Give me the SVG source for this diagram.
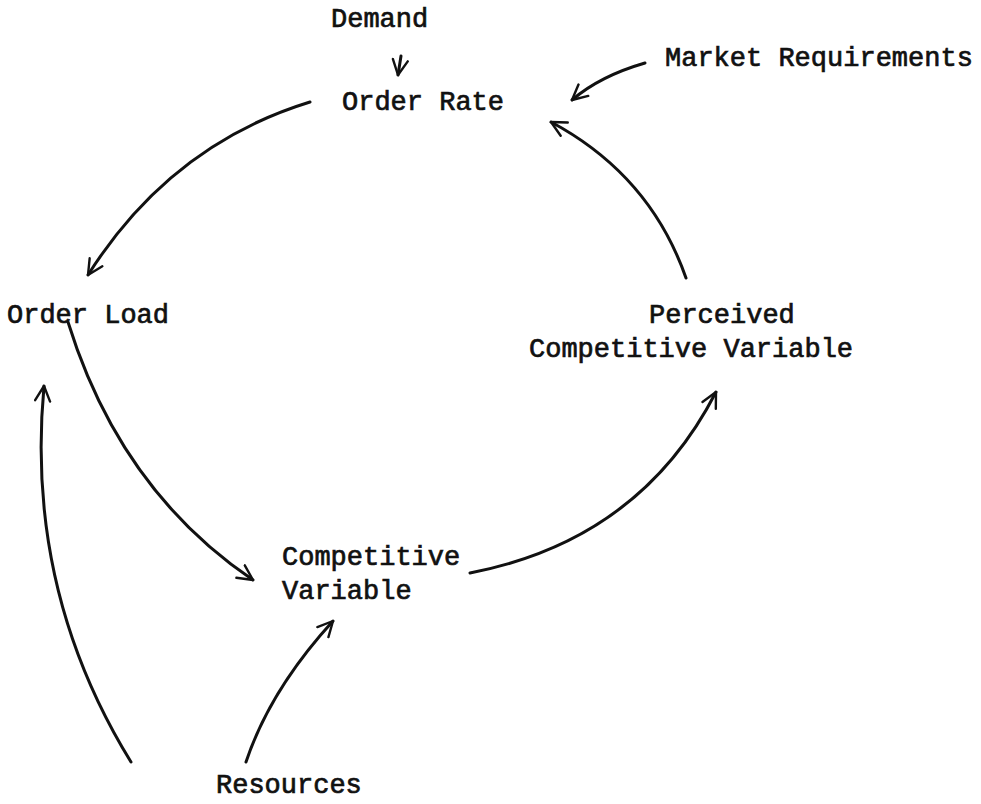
<svg xmlns="http://www.w3.org/2000/svg" width="981" height="804" viewBox="0 0 981 804">
  <style>
    .lbl { font-family: "Liberation Mono", "DejaVu Sans Mono", monospace; font-size: 27px; fill: #111; stroke: #111; stroke-width: 0.7; }
    .edge { fill: none; stroke: #111; stroke-width: 3; stroke-linecap: round; marker-end: url(#head); }
  </style>
  <defs>
    <marker id="head" viewBox="0 0 12 12" refX="11" refY="6" markerWidth="6" markerHeight="6" markerUnits="strokeWidth" orient="auto">
      <path d="M1,1 L11,6 L1,11" fill="none" stroke="#111" stroke-width="1.6" stroke-linecap="round" stroke-linejoin="round"/>
    </marker>
  </defs>
  <rect width="981" height="804" fill="#fff"/>

  <g id="connectors">
    <path class="edge" d="M401,56 L398,75"/>
    <path class="edge" d="M645,63 Q600,76 572,100"/>
    <path class="edge" d="M310,102 Q170,145 88,275"/>
    <path class="edge" d="M68,322 Q120,490 253,580"/>
    <path class="edge" d="M470,573 Q640,540 716,392"/>
    <path class="edge" d="M686,278 Q650,175 551,122"/>
    <path class="edge" d="M131,762 Q25,590 44,386"/>
    <path class="edge" d="M246,762 Q270,690 333,621"/>
  </g>

  <g id="demand"><text class="lbl" x="331" y="27">Demand</text></g>
  <g id="order-rate"><text class="lbl" x="342" y="110">Order Rate</text></g>
  <g id="market-requirements"><text class="lbl" x="665" y="66">Market Requirements</text></g>
  <g id="order-load"><text class="lbl" x="7" y="323">Order Load</text></g>
  <g id="perceived-competitive-variable">
    <text class="lbl" x="649" y="323">Perceived</text>
    <text class="lbl" x="529" y="357">Competitive Variable</text>
  </g>
  <g id="competitive-variable">
    <text class="lbl" x="282" y="565">Competitive</text>
    <text class="lbl" x="282" y="599">Variable</text>
  </g>
  <g id="resources"><text class="lbl" x="216" y="793">Resources</text></g>
</svg>
